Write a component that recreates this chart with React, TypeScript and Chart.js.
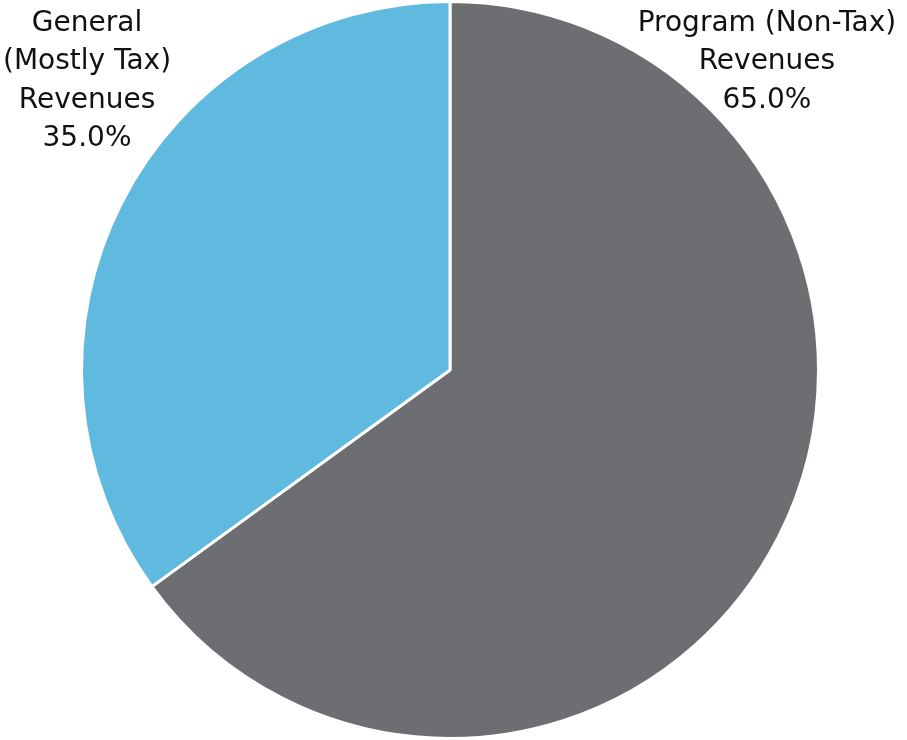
import React, { useEffect, useRef } from "react";
import { Chart, registerables } from "chart.js";

Chart.register(...registerables);

const categories = ["Program (Non-Tax) Revenues", "General (Mostly Tax) Revenues"];
const values = [65.0, 35.0];
const colors = ["#6d6e71", "#60b9df"];
const labelLines = [
  ["Program (Non-Tax)", "Revenues", "65.0%"],
  ["General", "(Mostly Tax)", "Revenues", "35.0%"],
];

const labelPlugin = {
  id: "cornerLabels",
  afterDraw(chart: any) {
    const meta = chart.getDatasetMeta(0);
    const arc = meta.data[0];
    if (!arc) return;
    const { x: cx, y: cy, outerRadius: r } = arc.getProps(["x", "y", "outerRadius"], true);
    const ctx = chart.ctx;
    ctx.save();
    ctx.font = "28px 'DejaVu Sans'";
    ctx.fillStyle = "#111111";
    ctx.textAlign = "center";
    ctx.textBaseline = "middle";
    const lh = 38.5;
    const anchors = [
      { x: cx + 0.86 * r, y: cy - r + 22 },
      { x: cx - 0.985 * r, y: cy - r + 22 },
    ];
    labelLines.forEach((lines, i) => {
      lines.forEach((t, j) => {
        ctx.fillText(t, anchors[i].x, anchors[i].y + j * lh);
      });
    });
    ctx.restore();
  },
};

export default function App() {
  const ref = useRef<HTMLCanvasElement>(null);
  useEffect(() => {
    document.body.style.margin = "0";
    const chart = new Chart(ref.current!, {
      type: "pie",
      data: {
        labels: categories,
        datasets: [
          {
            data: values,
            backgroundColor: colors,
            borderColor: "#ffffff",
            borderWidth: 3,
          },
        ],
      },
      options: {
        animation: false,
        responsive: false,
        layout: { padding: { left: 78, right: 85, top: -2, bottom: -2 } },
        plugins: {
          legend: { display: false },
          tooltip: { enabled: false },
        },
      },
      plugins: [labelPlugin],
    });
    return () => chart.destroy();
  }, []);
  return (
    <div style={{ width: 907, height: 740 }}>
      <canvas ref={ref} width={907} height={740} />
    </div>
  );
}
